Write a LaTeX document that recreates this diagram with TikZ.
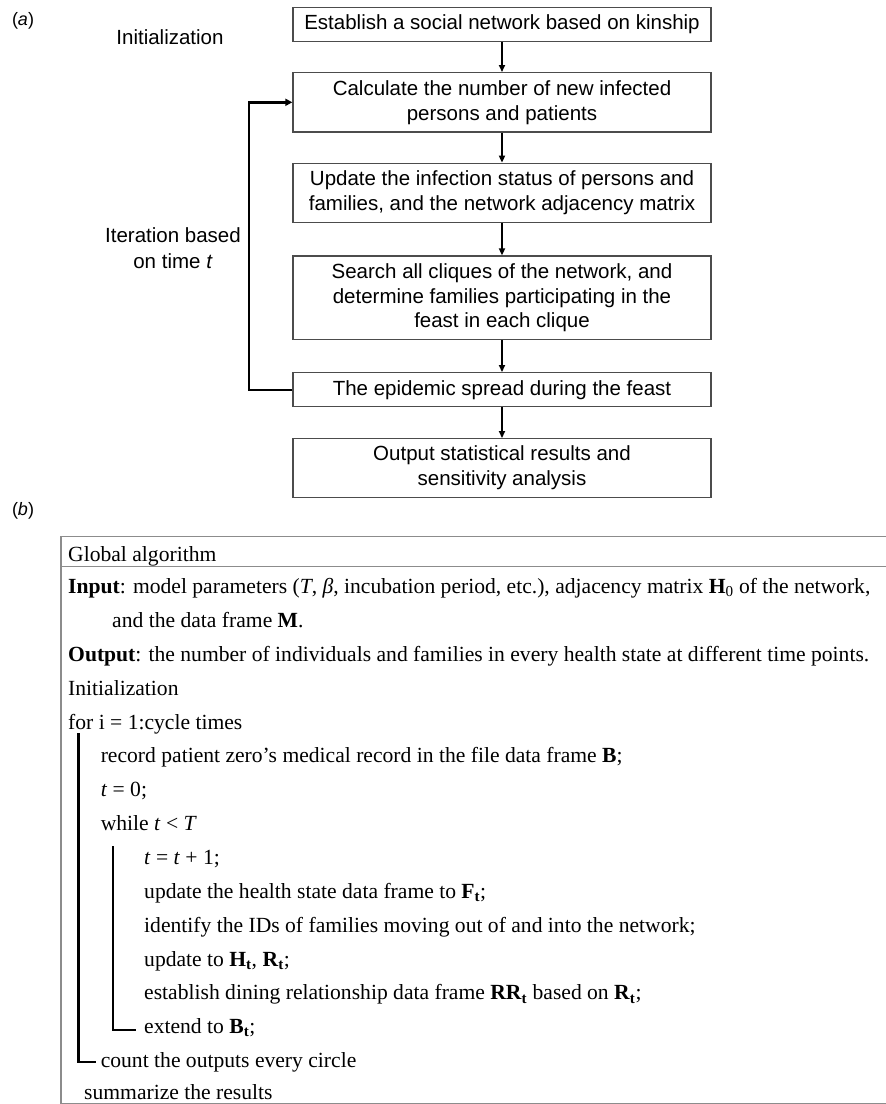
\documentclass[tikz,border=0pt]{standalone}
\usepackage{fontspec}
\setmainfont{Liberation Serif}
\newfontfamily\arialf{Liberation Sans}
\usetikzlibrary{arrows.meta}

\newcommand{\bsub}[2]{\textbf{#1}\textsubscript{\textbf{#2}}}

\begin{document}
\begin{tikzpicture}[x=1pt,y=-1pt,
  flowbox/.style={draw=black!70, line width=1.3pt, minimum width=418pt,
    align=center, inner sep=0pt,
    font=\arialf\fontsize{20.5}{24.8}\selectfont},
  flowarrow/.style={-{Triangle[length=7pt,width=6pt]}, line width=1.6pt},
  looparrow/.style={-{Triangle[length=7pt,width=7pt]}, line width=2.4pt},
  sidelabel/.style={font=\arialf\fontsize{20.5}{25.4}\selectfont, align=center},
  panellabel/.style={font=\arialf\fontsize{18}{20}\selectfont},
  algline/.style={anchor=base west, inner sep=0pt,
    font=\fontsize{21.6}{24}\selectfont},
  algframe/.style={draw=black!45, line width=1.3pt},
  bar/.style={line width=2.8pt},
]
\useasboundingbox (0,0) rectangle (886,1104);

% ---------- (a) flow chart ----------
\node[panellabel] (pa) at (23,20.7) {(\textit{a})};

\node[flowbox, minimum height=34pt]   (b1) at (502,24.3)
  {Establish a social network based on kinship};
\node[flowbox, minimum height=59.3pt] (b2) at (502,102.3)
  {Calculate the number of new infected\\persons and patients};
\node[flowbox, minimum height=59pt]   (b3) at (502,192.8)
  {Update the infection status of persons and\\families, and the network adjacency matrix};
\node[flowbox, minimum height=83.3pt] (b4) at (502,297.7)
  {Search all cliques of the network, and\\determine families participating in the\\feast in each clique};
\node[flowbox, minimum height=34pt]   (b5) at (502,389.7)
  {The epidemic spread during the feast};
\node[flowbox, minimum height=58.6pt] (b6) at (502,468)
  {Output statistical results and\\sensitivity analysis};

\draw[flowarrow] (b1) -- (b2);
\draw[flowarrow] (b2) -- (b3);
\draw[flowarrow] (b3) -- (b4);
\draw[flowarrow] (b4) -- (b5);
\draw[flowarrow] (b5) -- (b6);

\coordinate (loopx) at (249,0);
\draw[looparrow] (b5.west) -- (b5.west -| loopx) |- (b2.west);

\node[sidelabel] (linit) at (170,37) {Initialization};
\node[sidelabel] (liter) at (173,248) {Iteration based\\on time \textit{t}};

% ---------- (b) algorithm ----------
\node[panellabel] (pb) at (23,510.7) {(\textit{b})};

\draw[algframe] (61,536.7) rectangle (892,1103.5);
\draw[algframe] (61,566.7) -- (892,566.7);

\node[algline] (hdr) at (68,561.5) {Global algorithm};
\node[algline] (in1) at (68,593.5) {\textbf{Input}: model parameters (\textit{T}, \textit{β}, incubation period, etc.), adjacency matrix \textbf{H}\textsubscript{0} of the network,};
\node[algline] (in2) at (112,627.4) {and the data frame \textbf{M}.};
\node[algline] (out) at (68,661.2) {\textbf{Output}: the number of individuals and families in every health state at different time points.};
\node[algline] (ini) at (68,695.1) {Initialization};
\node[algline] (for) at (68,729) {for i = 1:cycle times};
\node[algline] (rec) at (100.6,762.9) {record patient zero’s medical record in the file data frame \textbf{B};};
\node[algline] (tz) at (100.6,796.7) {\textit{t} = 0;};
\node[algline] (whl) at (100.6,830.6) {while \textit{t} < \textit{T}};
\node[algline] (tt) at (144,864.5) {\textit{t} = \textit{t} + 1;};
\node[algline] (upd) at (144,898.3) {update the health state data frame to \bsub{F}{t};};
\node[algline] (idf) at (144,932.2) {identify the IDs of families moving out of and into the network;};
\node[algline] (uph) at (144,966.1) {update to \bsub{H}{t}, \bsub{R}{t};};
\node[algline] (est) at (144,999.9) {establish dining relationship data frame \bsub{RR}{t} based on \bsub{R}{t};};
\node[algline] (ext) at (144,1033.8) {extend to \bsub{B}{t};};
\node[algline] (cnt) at (100.6,1067.7) {count the outputs every circle};
\node[algline] (sum) at (84,1099.5) {summarize the results};

% loop bars
\coordinate (bar1top) at (78.5,733);
\coordinate (bar1end) at (96,1062);
\coordinate (bar2top) at (113,846);
\coordinate (bar2end) at (136,1030);
\draw[bar] (bar1top) |- (bar1end);
\draw[bar] (bar2top) |- (bar2end);
\end{tikzpicture}
\end{document}
